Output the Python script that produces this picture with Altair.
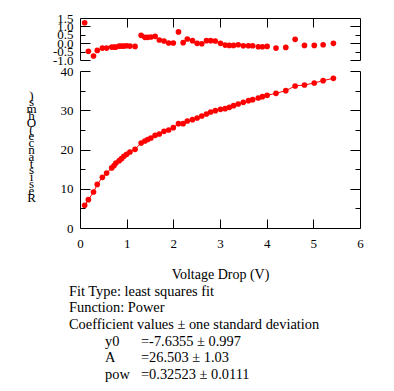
import altair as alt
import pandas as pd

# ---------------- data ----------------
voltage = [0.10, 0.18, 0.29, 0.37, 0.48, 0.57, 0.68, 0.73, 0.77, 0.84,
           0.89, 0.94, 1.00, 1.07, 1.18, 1.31, 1.39, 1.45, 1.52, 1.61,
           1.70, 1.80, 1.90, 2.00, 2.11, 2.21, 2.30, 2.41, 2.51, 2.61,
           2.71, 2.80, 2.90, 3.01, 3.11, 3.20, 3.29, 3.39, 3.50, 3.61,
           3.70, 3.82, 3.91, 4.01, 4.20, 4.41, 4.61, 4.81, 5.02, 5.21, 5.43]
resistance = [5.78, 7.22, 9.17, 11.1, 12.9, 14.0, 15.3, 15.9, 16.56, 17.15,
              17.66, 18.26, 18.77, 19.36, 20.04, 21.66, 22.17, 22.55, 22.93, 23.61,
              23.95, 24.63, 24.97, 25.56, 26.58, 26.58, 27.26, 27.6, 28.03, 28.54,
              29.04, 29.55, 29.89, 30.23, 30.4, 30.74, 31.17, 31.59, 32.02, 32.44,
              32.7, 33.12, 33.46, 33.8, 34.31, 34.99, 36.18, 36.43, 36.94, 37.54, 38.13]
residual = [1.22, -0.48, -0.76, -0.43, -0.29, -0.29, -0.23, -0.23, -0.23, -0.17,
            -0.17, -0.17, -0.15, -0.17, -0.19, 0.47, 0.35, 0.35, 0.37, 0.41,
            0.19, 0.13, 0.01, 0.01, 0.67, 0.03, 0.25, 0.15, -0.01, -0.03,
            0.15, 0.15, 0.13, -0.01, -0.11, -0.13, -0.13, -0.09, -0.15, -0.15,
            -0.15, -0.21, -0.21, -0.19, -0.29, -0.25, 0.23, -0.13, -0.13, -0.09, -0.01]

fit_info = ["Fit Type: least squares fit", "Function: Power",
            "Coefficient values \u00b1 one standard deviation"]
coef_names = ["y0", "A", "pow"]
coef_values = ["=-7.6355 \u00b1 0.997", "=26.503 \u00b1 1.03", "=0.32523 \u00b1 0.0111"]
y_title = "Resistance (Ohms)"
x_title = "Voltage Drop (V)"

x_ticks = [0, 1, 2, 3, 4, 5, 6]
x_inner_ticks = [1, 2, 3, 4, 5]
res_ticks = [-1.0, -0.5, 0.0, 0.5, 1.0, 1.5]
res_major = [-1.0, 0.0, 1.0]
res_minor = [-0.5, 0.5]
main_ticks = [0, 10, 20, 30, 40]
main_minor = [5, 15, 25, 35]

df = pd.DataFrame({"V": voltage, "R": resistance, "res": residual})

FONT = "Liberation Serif"
RED = "#ff0000"
W, H_TOP, H_MAIN = 280, 42, 157

x_scale = alt.Scale(domain=[0, 6], nice=False, zero=False)
res_scale = alt.Scale(domain=[-1, 1.5], nice=False, zero=False)
main_scale = alt.Scale(domain=[0, 40], nice=False)


def line_axis(orient, **kw):
    args = dict(orient=orient, domain=True, domainColor="black", domainWidth=1,
                ticks=False, grid=False, labels=False, title=None,
                labelFont=FONT, labelFontSize=13, labelColor="black",
                titleFont=FONT, titleFontSize=14, titleColor="black",
                titleFontWeight="normal")
    args.update(kw)
    return alt.Axis(**args)


def tick_axis(orient, values, size):
    return alt.Axis(orient=orient, values=values, domain=False, labels=False,
                    grid=False, ticks=True, tickSize=size, tickColor="black",
                    tickWidth=1, offset=-size, title=None)


def ghost(yfield, yscale, x_axis=None, y_axis=None):
    return alt.Chart(df).mark_point(opacity=0).encode(
        x=alt.X("V:Q", scale=x_scale, axis=x_axis),
        y=alt.Y(yfield, scale=yscale, axis=y_axis),
    )


# ---------------- residual panel ----------------
res_label_axis = line_axis(
    "left", values=res_ticks, labels=True, labelOverlap=False, labelPadding=7,
    labelExpr="replace(format(datum.value, '.1f'), '\u2212', '-')")

top_pts = alt.Chart(df).mark_circle(color=RED, size=32, opacity=1).encode(
    x=alt.X("V:Q", scale=x_scale, axis=line_axis("top")),
    y=alt.Y("res:Q", scale=res_scale, axis=res_label_axis),
)
top = alt.layer(
    top_pts,
    ghost("res:Q", res_scale, x_axis=tick_axis("top", x_inner_ticks, 9),
          y_axis=line_axis("right")),
    ghost("res:Q", res_scale, y_axis=tick_axis("left", res_major, 10)),
    ghost("res:Q", res_scale, y_axis=tick_axis("left", res_minor, 5)),
    ghost("res:Q", res_scale, y_axis=tick_axis("right", res_major, 10)),
    ghost("res:Q", res_scale, y_axis=tick_axis("right", res_minor, 5)),
).resolve_axis(x="independent", y="independent").properties(width=W, height=H_TOP)

# ---------------- main panel ----------------
x_label_axis = line_axis(
    "bottom", values=x_ticks, labels=True, labelFlush=False, labelPadding=9,
    title=x_title, titlePadding=17)
y_label_axis = line_axis(
    "left", values=main_ticks, labels=True, labelPadding=7,
    title=list(reversed(y_title)), titleAngle=0, titleAlign="center",
    titleBaseline="top", titleX=-49, titleY=18, titleLineHeight=6.8,
    titleFontSize=13)

main_line = alt.Chart(df).mark_line(color=RED, strokeWidth=1).encode(
    x=alt.X("V:Q", scale=x_scale, axis=x_label_axis),
    y=alt.Y("R:Q", scale=main_scale, axis=y_label_axis),
)
main_pts = alt.Chart(df).mark_circle(color=RED, size=32, opacity=1).encode(
    x=alt.X("V:Q", scale=x_scale, axis=None),
    y=alt.Y("R:Q", scale=main_scale, axis=None),
)


def note(text, x, y):
    return alt.Chart(pd.DataFrame({"t": [text]})).mark_text(
        align="left", baseline="alphabetic", font=FONT, fontSize=14.4,
        color="black", lineBreak="\n", lineHeight=16.6,
    ).encode(text="t:N", x=alt.value(x), y=alt.value(y))


main = alt.layer(
    main_line,
    main_pts,
    ghost("R:Q", main_scale, x_axis=tick_axis("bottom", x_inner_ticks, 9),
          y_axis=line_axis("right")),
    ghost("R:Q", main_scale, y_axis=tick_axis("left", main_ticks, 10)),
    ghost("R:Q", main_scale, y_axis=tick_axis("left", main_minor, 5)),
    ghost("R:Q", main_scale, y_axis=tick_axis("right", main_ticks, 10)),
    ghost("R:Q", main_scale, y_axis=tick_axis("right", main_minor, 5)),
    note("\n".join(fit_info), -11, 224.7),
    note("\n".join(coef_names), 25, 274.7),
    note("\n".join(coef_values), 61, 274.7),
).resolve_axis(x="independent", y="independent").properties(width=W, height=H_MAIN)

chart = alt.vconcat(top, main, spacing=11, bounds="flush").properties(
    padding={"left": 17, "top": 4, "right": 5, "bottom": 0},
    background="white",
).configure_view(strokeWidth=0)

chart.save("out.html", embed_options={"renderer": "svg", "actions": False})
